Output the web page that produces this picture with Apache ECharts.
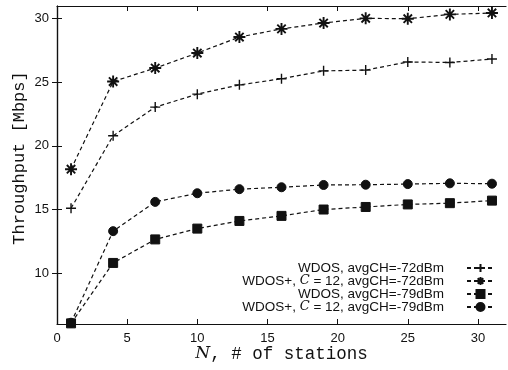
<!DOCTYPE html>
<html>
<head>
<meta charset="utf-8">
<script src="https://cdn.jsdelivr.net/npm/echarts@6/dist/echarts.min.js"></script>
<style>
  html, body { margin: 0; padding: 0; background: #fff; }
  #chart { width: 508px; height: 370px; }
</style>
</head>
<body>
<div id="chart"></div>
<script>
// number of stations
const stations = [1, 4, 7, 10, 13, 16, 19, 22, 25, 28, 31]
const wdos72 = [15.1, 20.8, 23.05, 24.07, 24.8, 25.28, 25.9, 25.96, 26.6, 26.56, 26.83]
const wdosPlus72 = [18.17, 25.06, 26.12, 27.3, 28.56, 29.2, 29.66, 30.03, 30.0, 30.34, 30.45]
const wdos79 = [6.05, 10.8, 12.65, 13.5, 14.1, 14.5, 15.0, 15.2, 15.4, 15.5, 15.7]
const wdosPlus79 = [6.1, 13.3, 15.6, 16.28, 16.6, 16.75, 16.93, 16.95, 17.0, 17.06, 17.03]
const xTicks = [0, 5, 10, 15, 20, 25, 30]
const yTicks = [10, 15, 20, 25, 30]
const names = [
  'WDOS, avgCH=-72dBm',
  'WDOS+, C = 12, avgCH=-72dBm',
  'WDOS, avgCH=-79dBm',
  'WDOS+, C = 12, avgCH=-79dBm'
]

const ink = '#111'
const tickFont = 'Liberation Sans, Arial, sans-serif'
const monoFont = 'Liberation Mono, DejaVu Sans Mono, monospace'

function pairs(ys) {
  return stations.map((x, i) => [x, ys[i]])
}

const plusPath = 'path://M0,5L10,5M5,0L5,10'
const starPath = 'path://M0,5L10,5M5,0L5,10M1.5,1.5L8.5,8.5M8.5,1.5L1.5,8.5'

function makeSeries(name, ys, symbol, size, bw) {
  return {
    name: name,
    type: 'line',
    data: pairs(ys),
    symbol: symbol,
    symbolSize: size,
    showAllSymbol: true,
    lineStyle: { color: ink, width: 1.2, type: [4, 3] },
    itemStyle: { color: ink, borderColor: ink, borderWidth: bw }
  }
}

function axisCommon() {
  return {
    type: 'value',
    axisLine: { show: true, lineStyle: { color: ink, width: 1.2 } },
    splitLine: { show: false }
  }
}

const chart = echarts.init(document.getElementById('chart'))

let option = {
  backgroundColor: '#fff',
  animation: false,
  grid: { left: 57, right: 2, top: 6, bottom: 46, outerBoundsMode: 'none', containLabel: false },
  xAxis: [
    Object.assign(axisCommon(), {
      min: 0,
      max: 32,
      position: 'bottom',
      axisTick: { inside: true, length: 5, customValues: xTicks, lineStyle: { color: ink } },
      axisLabel: { customValues: xTicks, color: ink, fontSize: 13, fontFamily: tickFont, margin: 8 },
      name: '{i|N}, # of stations',
      nameLocation: 'middle',
      nameGap: 21,
      nameMoveOverlap: false,
      nameTextStyle: {
        color: ink, fontSize: 17.5, fontFamily: monoFont,
        rich: { i: { fontStyle: 'italic', fontFamily: 'DejaVu Serif, serif', fontSize: 17, color: ink } }
      }
    }),
    Object.assign(axisCommon(), {
      min: 0,
      max: 32,
      position: 'top',
      axisTick: { inside: true, length: 5, customValues: xTicks, lineStyle: { color: ink } },
      axisLabel: { show: false }
    })
  ],
  yAxis: [
    Object.assign(axisCommon(), {
      min: 6,
      max: 31,
      position: 'left',
      axisTick: { inside: true, length: 5, customValues: yTicks, lineStyle: { color: ink } },
      axisLabel: { customValues: yTicks, color: ink, fontSize: 13, fontFamily: tickFont, margin: 8 },
      name: 'Throughput [Mbps]',
      nameLocation: 'middle',
      nameGap: 29,
      nameMoveOverlap: false,
      nameTextStyle: { color: ink, fontSize: 17, fontFamily: monoFont, padding: [0, 0, 0, 14] }
    }),
    Object.assign(axisCommon(), {
      min: 6,
      max: 31,
      position: 'right',
      axisTick: { inside: true, length: 5, customValues: yTicks, lineStyle: { color: ink } },
      axisLabel: { show: false }
    })
  ],
  legend: {
    orient: 'vertical',
    right: 8,
    bottom: 51,
    align: 'right',
    itemWidth: 27,
    itemHeight: 10,
    itemGap: -1,
    data: names,
    formatter: function(name) {
      if (name.indexOf('C = 12') >= 0) {
        return name.replace('C = 12', '{i|C} = 12')
      }
      return name
    },
    textStyle: {
      color: ink,
      fontSize: 13.5,
      fontFamily: tickFont,
      lineHeight: 10,
      padding: [0, 18, 0, 0],
      rich: { i: { fontStyle: 'italic', fontFamily: 'DejaVu Serif, serif', fontSize: 13, color: ink, lineHeight: 10 } }
    }
  },
  series: [
    makeSeries(names[0], wdos72, plusPath, 10, 1.4),
    makeSeries(names[1], wdosPlus72, starPath, 12, 1.9),
    makeSeries(names[2], wdos79, 'rect', 9, 1),
    makeSeries(names[3], wdosPlus79, 'circle', 9, 1)
  ]
}

chart.setOption(option)
</script>
</body>
</html>
